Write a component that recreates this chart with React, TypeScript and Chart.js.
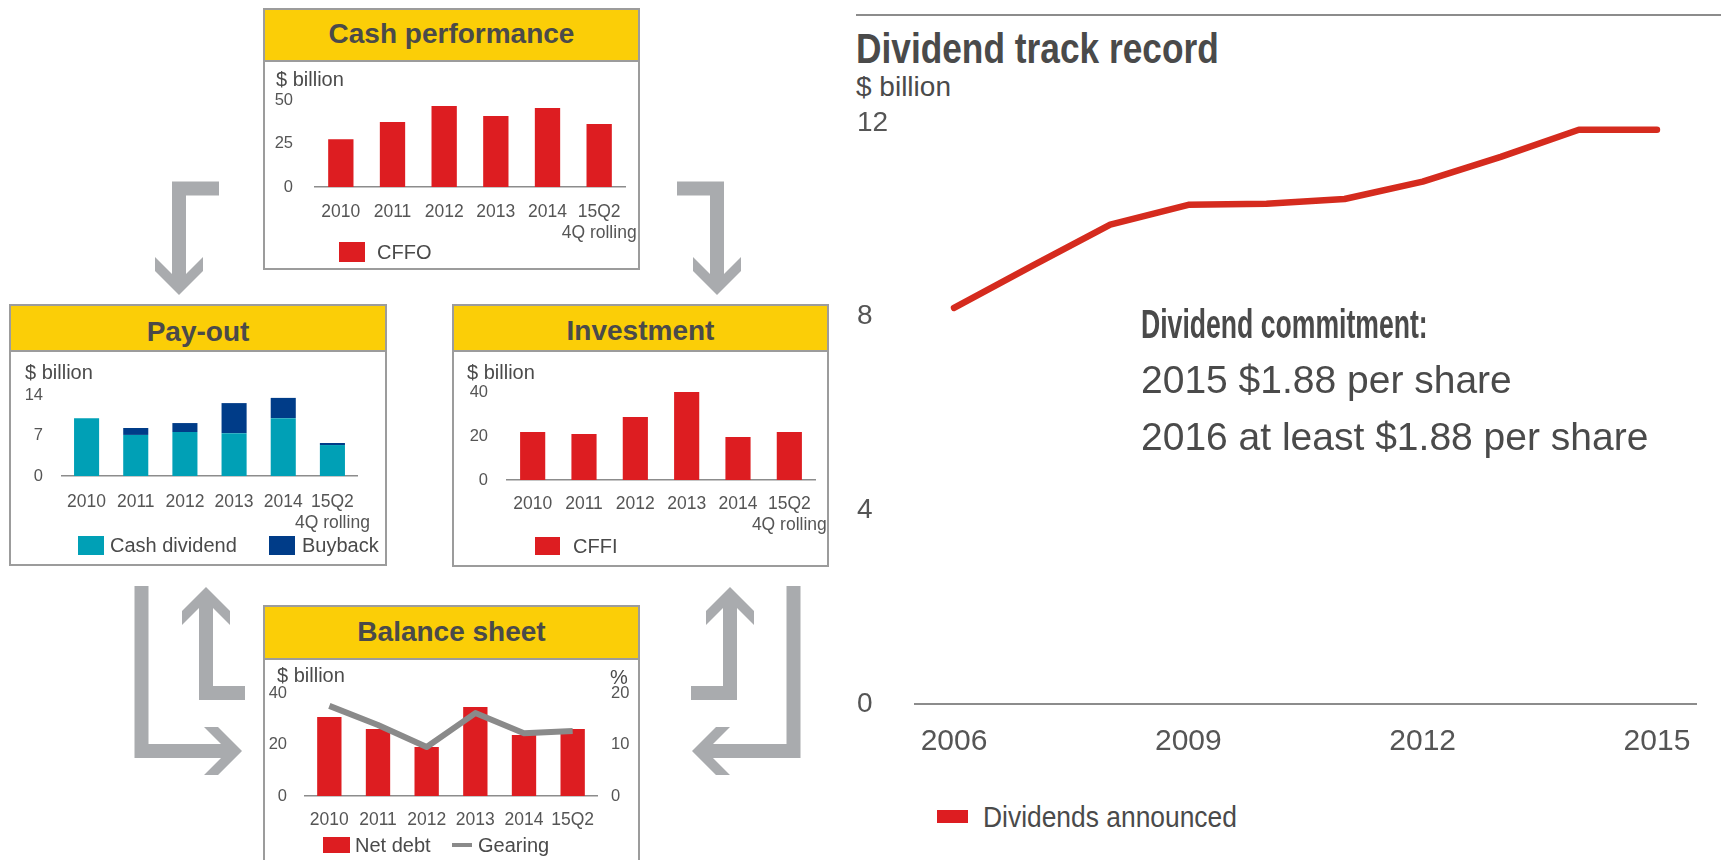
import React, { useEffect, useRef } from "react";
import { Chart, registerables } from "chart.js";

Chart.register(...registerables);

const FONT = "'Liberation Sans', Arial, Helvetica, sans-serif";
Chart.defaults.font.family = FONT;

const RED = "#dd1d21";
const CYAN = "#00a0b6";
const NAVY = "#003c88";
const GEAR = "#8a8a8a";
const YELLOW = "#fbce07";
const TEXT = "#4a4a4a";
const TICK = "#555555";
const BORDER = "#9c9c9c";
const ARROW = "#a9abae";
const LINE_RED = "#d52b1e";
const AXIS = "#8c8c8c";

// ---------------- data ----------------
const periods = ["2010", "2011", "2012", "2013", "2014", "15Q2"];
const rollingNote = "4Q rolling";
const cffo = [27.5, 37.3, 46.6, 40.8, 45.4, 36.2];
const cashDividend = [10.0, 7.1, 7.6, 7.4, 10.0, 5.35];
const buyback = [0, 1.2, 1.55, 5.2, 3.5, 0.35];
const cffi = [21.8, 20.9, 28.6, 40.0, 19.5, 21.8];
const netDebt = [30.7, 26.0, 19.0, 34.6, 23.7, 26.0];
const gearing = [17.5, 13.8, 9.5, 16.1, 12.2, 12.6];

const cashTicks = [0, 25, 50];
const payoutTicks = [0, 7, 14];
const investTicks = [0, 20, 40];
const debtTicks = [0, 20, 40];
const gearingTicks = [0, 10, 20];

const dividendYears = ["2006", "2007", "2008", "2009", "2010", "2011", "2012", "2013", "2014", "2015"];
const dividendsAnnounced = [8.18, 9.05, 9.9, 10.31, 10.33, 10.43, 10.79, 11.3, 11.86, 11.86];
const dividendTicks = [0, 4, 8, 12];

const rollingLabels = periods.map((p) => (p === "15Q2" ? [p, rollingNote] : p));

// ---------------- helpers ----------------
type Geo = { yWidth: number; padRight: number; padTop: number; xHeight: number; yPad: number; xTick: number };

function smallOptions(g: Geo, yTicks: number[], stacked = false) {
  return {
    responsive: false,
    animation: false,
    devicePixelRatio: 1,
    layout: { padding: { left: 0, right: g.padRight, top: g.padTop, bottom: 0 } },
    plugins: { legend: { display: false }, tooltip: { enabled: false } },
    scales: {
      x: {
        stacked,
        grid: { display: false, drawTicks: true, tickLength: g.xTick },
        border: { display: true, color: AXIS, width: 1.5 },
        ticks: { color: TICK, font: { size: 17.5 }, padding: 0, maxRotation: 0, minRotation: 0, autoSkip: false },
        afterFit: (s: any) => { s.height = g.xHeight; },
      },
      y: {
        stacked,
        min: yTicks[0],
        max: yTicks[yTicks.length - 1],
        grid: { display: false, drawTicks: false },
        border: { display: false },
        ticks: { color: TICK, font: { size: 16.5 }, padding: g.yPad },
        afterBuildTicks: (s: any) => { s.ticks = yTicks.map((v) => ({ value: v })); },
        afterFit: (s: any) => { s.width = g.yWidth; },
      },
    } as any,
  };
}

function ChartCanvas({ x, y, w, h, make }: { x: number; y: number; w: number; h: number; make: () => any }) {
  const ref = useRef<HTMLCanvasElement>(null);
  useEffect(() => {
    const chart = new Chart(ref.current as HTMLCanvasElement, make());
    return () => chart.destroy();
  }, []);
  return (
    <canvas
      ref={ref}
      width={w}
      height={h}
      style={{ position: "absolute", left: x, top: y, width: w, height: h }}
    />
  );
}

function Txt({ x, y, size, children, bold = false, center = false, sx = 1, color = TEXT }: any) {
  return (
    <div
      style={{
        position: "absolute",
        left: x,
        top: y,
        fontSize: size,
        fontWeight: bold ? 700 : 400,
        lineHeight: 1,
        whiteSpace: "nowrap",
        color,
        transform: center ? "translate(-50%, -50%)" : `translateY(-50%) scaleX(${sx})`,
        transformOrigin: "left center",
      }}
    >
      {children}
    </div>
  );
}

function Rect({ x, y, w, h, c }: any) {
  return <div style={{ position: "absolute", left: x, top: y, width: w, height: h, background: c }} />;
}

function Panel({ x, y, w, h, headerH, title, titleY }: any) {
  return (
    <>
      <div style={{ position: "absolute", left: x, top: y, width: w, height: h, border: `2px solid ${BORDER}`, boxSizing: "border-box", background: "#fff" }} />
      <div style={{ position: "absolute", left: x, top: y, width: w, height: headerH, border: `2px solid ${BORDER}`, boxSizing: "border-box", background: YELLOW }} />
      <Txt x={x + w / 2} y={titleY} size={28} bold center>{title}</Txt>
    </>
  );
}

function LArrow({ s, c, t, dir }: any) {
  const d = 14, W = 24;
  const vec: any = { down: [0, 1], up: [0, -1], right: [1, 0], left: [-1, 0] };
  const rotMap: any = { down: 0, up: 180, right: -90, left: 90 };
  const [vx, vy] = vec[dir];
  const ex = t[0] - vx * d, ey = t[1] - vy * d;
  return (
    <g>
      <polyline
        points={`${s[0]},${s[1]} ${c[0]},${c[1]} ${ex},${ey}`}
        fill="none"
        stroke={ARROW}
        strokeWidth={14}
        strokeLinejoin="miter"
        strokeLinecap="butt"
      />
      <polygon
        points={`${-W},${-W - d} 0,${-d} ${W},${-W - d} ${W},${-W} 0,0 ${-W},${-W}`}
        fill={ARROW}
        transform={`translate(${t[0]},${t[1]}) rotate(${rotMap[dir]})`}
      />
    </g>
  );
}

// ---------------- chart configs ----------------
const barDs = (data: number[], color: string) => ({
  type: "bar",
  data,
  backgroundColor: color,
  borderWidth: 0,
  categoryPercentage: 1,
  barPercentage: 0.49,
  order: 1,
});

const makeCash = () => ({
  type: "bar",
  data: { labels: rollingLabels, datasets: [barDs(cffo, RED)] },
  options: smallOptions({ yWidth: 50, padRight: 20, padTop: 37, xHeight: 81, yPad: 22, xTick: 14.5 }, cashTicks),
});

const makePayout = () => ({
  type: "bar",
  data: {
    labels: rollingLabels,
    datasets: [
      { ...barDs(cashDividend, CYAN), barPercentage: 0.51 },
      { ...barDs(buyback, NAVY), barPercentage: 0.51 },
    ],
  },
  options: smallOptions({ yWidth: 51, padRight: 28, padTop: 43, xHeight: 88, yPad: 19, xTick: 15.5 }, payoutTicks, true),
});

const makeInvest = () => ({
  type: "bar",
  data: { labels: rollingLabels, datasets: [barDs(cffi, RED)] },
  options: smallOptions({ yWidth: 53, padRight: 23, padTop: 40, xHeight: 84, yPad: 19, xTick: 13.5 }, investTicks),
});

const makeBalance = () => {
  const opts: any = smallOptions({ yWidth: 40, padRight: 0, padTop: 32, xHeight: 64, yPad: 18, xTick: 13.5 }, debtTicks);
  opts.scales.y2 = {
    position: "right",
    min: gearingTicks[0],
    max: gearingTicks[gearingTicks.length - 1],
    grid: { display: false, drawTicks: false },
    border: { display: false },
    ticks: { color: TICK, font: { size: 16.5 }, padding: 14 },
    afterBuildTicks: (s: any) => { s.ticks = gearingTicks.map((v) => ({ value: v })); },
    afterFit: (s: any) => { s.width = 40; },
  };
  return {
    type: "bar",
    data: {
      labels: periods,
      datasets: [
        {
          type: "line",
          data: gearing,
          yAxisID: "y2",
          borderColor: GEAR,
          borderWidth: 6,
          pointRadius: 0,
          tension: 0,
          borderJoinStyle: "round",
          order: 0,
        },
        { ...barDs(netDebt, RED), yAxisID: "y", barPercentage: 0.5 },
      ],
    },
    options: opts,
  };
};

const makeDividend = () => ({
  type: "line",
  data: {
    labels: dividendYears,
    datasets: [
      {
        data: dividendsAnnounced,
        borderColor: LINE_RED,
        borderWidth: 6.5,
        pointRadius: 0,
        tension: 0,
        borderCapStyle: "round",
        borderJoinStyle: "round",
      },
    ],
  },
  options: {
    responsive: false,
    animation: false,
    devicePixelRatio: 1,
    layout: { padding: { left: 0, right: 25, top: 33, bottom: 0 } },
    plugins: { legend: { display: false }, tooltip: { enabled: false } },
    scales: {
      x: {
        offset: true,
        grid: { display: false, drawTicks: true, tickLength: 20, offset: true },
        border: { display: true, color: AXIS, width: 2 },
        ticks: {
          autoSkip: false,
          maxRotation: 0,
          minRotation: 0,
          padding: 0,
          color: TICK,
          font: { size: 30 },
          callback: (_v: any, i: number) => (i % 3 === 0 ? dividendYears[i] : ""),
        },
        afterFit: (s: any) => { s.height = 86; },
      },
      y: {
        min: dividendTicks[0],
        max: dividendTicks[dividendTicks.length - 1],
        grid: { display: false, drawTicks: false },
        border: { display: false },
        ticks: { crossAlign: "far", color: TICK, font: { size: 28 }, padding: 0 },
        afterBuildTicks: (s: any) => { s.ticks = dividendTicks.map((v) => ({ value: v })); },
        afterFit: (s: any) => { s.width = 58; },
      },
    },
  },
});

// ---------------- app ----------------
export default function App() {
  return (
    <div
      style={{
        position: "fixed",
        left: 0,
        top: 0,
        width: 1721,
        height: 860,
        overflow: "hidden",
        background: "#fff",
        fontFamily: FONT,
        color: TEXT,
      }}
    >
      <svg width={1721} height={860} style={{ position: "absolute", left: 0, top: 0 }}>
        <LArrow s={[219, 188.5]} c={[179, 188.5]} t={[179, 295]} dir="down" />
        <LArrow s={[677, 188.5]} c={[717, 188.5]} t={[717, 295]} dir="down" />
        <LArrow s={[141.5, 586]} c={[141.5, 751]} t={[242, 751]} dir="right" />
        <LArrow s={[245, 693]} c={[206, 693]} t={[206, 587]} dir="up" />
        <LArrow s={[691, 693]} c={[730, 693]} t={[730, 587]} dir="up" />
        <LArrow s={[793.5, 586]} c={[793.5, 751]} t={[692, 751]} dir="left" />
      </svg>

      {/* Cash performance */}
      <Panel x={263} y={8} w={377} h={262} headerH={54} title="Cash performance" titleY={34} />
      <ChartCanvas x={265} y={63} w={380} h={205} make={makeCash} />
      <Txt x={276} y={79} size={20}>$ billion</Txt>
      <Rect x={339} y={242} w={26} h={20} c={RED} />
      <Txt x={377} y={252} size={20}>CFFO</Txt>

      {/* Pay-out */}
      <Panel x={9} y={304} w={378} h={262} headerH={48} title="Pay-out" titleY={332} />
      <ChartCanvas x={11} y={352} w={374} h={212} make={makePayout} />
      <Txt x={25} y={372} size={20}>$ billion</Txt>
      <Rect x={78} y={536} w={26} h={19} c={CYAN} />
      <Txt x={110} y={545} size={20}>Cash dividend</Txt>
      <Rect x={269} y={536} w={26} h={19} c={NAVY} />
      <Txt x={302} y={545} size={20}>Buyback</Txt>

      {/* Investment */}
      <Panel x={452} y={304} w={377} h={263} headerH={48} title="Investment" titleY={331} />
      <ChartCanvas x={454} y={352} w={384} h={212} make={makeInvest} />
      <Txt x={467} y={372} size={20}>$ billion</Txt>
      <Rect x={535} y={537} w={25} h={18} c={RED} />
      <Txt x={573} y={546} size={20}>CFFI</Txt>

      {/* Balance sheet */}
      <Panel x={263} y={605} w={377} h={300} headerH={55} title="Balance sheet" titleY={632} />
      <ChartCanvas x={265} y={661} w={372} h={199} make={makeBalance} />
      <Txt x={277} y={675} size={20}>$ billion</Txt>
      <Txt x={610} y={677} size={20}>%</Txt>
      <Rect x={323} y={837} w={27} h={16} c={RED} />
      <Txt x={355} y={845} size={20}>Net debt</Txt>
      <Rect x={452} y={843} w={20} h={4} c={GEAR} />
      <Txt x={478} y={845} size={20}>Gearing</Txt>

      {/* Dividend track record */}
      <Rect x={856} y={14} w={865} h={2} c={AXIS} />
      <Txt x={856} y={49} size={42} bold sx={0.84}>Dividend track record</Txt>
      <Txt x={856} y={87} size={28}>$ billion</Txt>
      <ChartCanvas x={857} y={90} w={864} h={700} make={makeDividend} />
      <Txt x={1141} y={324} size={40} bold sx={0.665}>Dividend commitment:</Txt>
      <Txt x={1141} y={379} size={39}>2015 $1.88 per share</Txt>
      <Txt x={1141} y={436} size={39}>2016 at least $1.88 per share</Txt>
      <Rect x={937} y={810} w={31} h={13} c={RED} />
      <Txt x={983} y={817} size={30} sx={0.88}>Dividends announced</Txt>
    </div>
  );
}
